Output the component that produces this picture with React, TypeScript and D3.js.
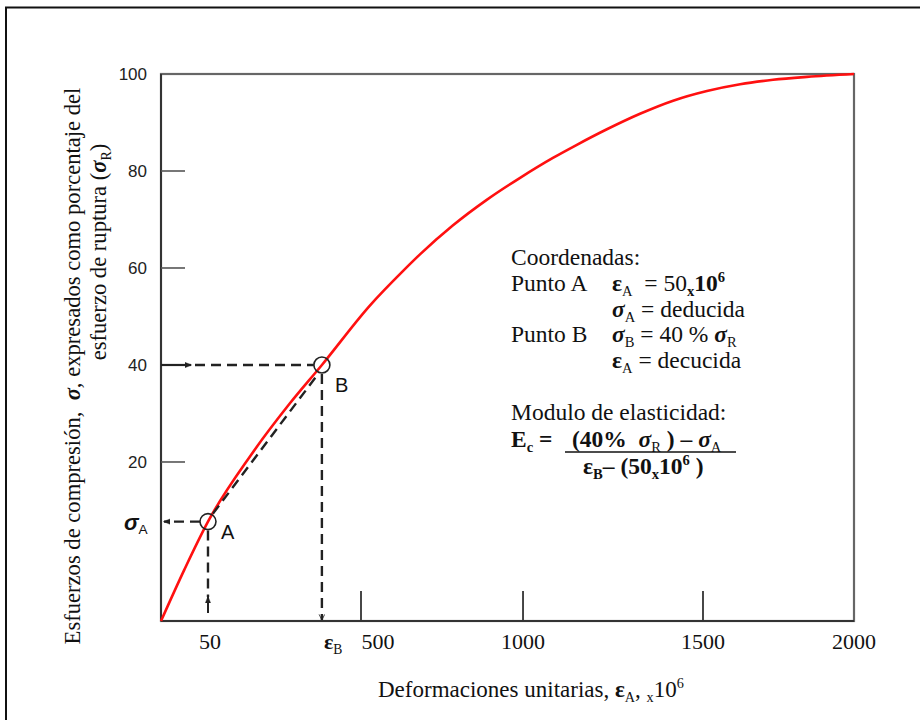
import { useEffect, useRef } from 'react'
import * as d3 from 'd3'

// curve (strain x10^6, stress as % of rupture stress)
const strain = [0, 25, 50, 174, 291, 385, 528, 630, 682, 784, 889, 991, 1083, 1147, 1233, 1325, 1417, 1513, 1623, 1732, 1844, 2000]
const stress = [0, 6.5, 12.5, 21.2, 32.1, 40, 52.3, 59.4, 62.8, 68.8, 74.1, 78.6, 82.7, 85.3, 88.6, 91.8, 94.5, 96.5, 97.9, 98.8, 99.4, 100]

// the axis in the source is schematic, so the scales are piecewise
const xBreaks = [0, 50, 500, 1000, 1500, 2000]
const xBreakFrac = [0, 0.0678, 0.2886, 0.5224, 0.7821, 1]
const yBreaks = [0, 20, 100]
const yBreakFrac = [0, 0.2907, 1]

const xTickMarks = [500, 1000, 1500]
const xTickValues = [50, 500, 1000, 1500, 2000]
const xTickLabels = ['50', '500', '1000', '1500', '2000']
const yTickMarks = [20, 40, 60, 80]
const yTickValues = [20, 40, 60, 80, 100]

const pointA = { label: 'A', strain: 50, stress: 12.5 }
const pointB = { label: 'B', strain: 385, stress: 40 }

const SERIF = '"Liberation Serif", "Times New Roman", serif'
const SANS = '"Liberation Sans", Arial, sans-serif'

type Seg = { t: string; bold?: boolean; italic?: boolean; sub?: boolean; sup?: boolean }

function rich(
  parent: d3.Selection<SVGGElement, unknown, null, undefined>,
  x: number,
  y: number,
  segs: Seg[],
  size: number,
  family = SERIF
) {
  const text = parent
    .append('text')
    .attr('x', x)
    .attr('y', y)
    .attr('font-family', family)
    .attr('font-size', size)
    .attr('fill', '#111')
    .style('white-space', 'pre')
  let shift = 0
  segs.forEach(s => {
    const target = s.sub ? size * 0.22 : s.sup ? -size * 0.38 : 0
    text
      .append('tspan')
      .attr('dy', target - shift)
      .attr('font-size', s.sub || s.sup ? size * 0.62 : size)
      .attr('font-weight', s.bold ? 'bold' : 'normal')
      .attr('font-style', s.italic ? 'italic' : 'normal')
      .text(s.t)
    shift = target
  })
  return text
}

export default function App() {
  const svgRef = useRef<SVGSVGElement>(null)

  useEffect(() => {
    if (!svgRef.current) return
    const svg = d3.select(svgRef.current)
    svg.selectAll('*').remove()

    const margin = { top: 74, left: 161 }
    const width = 693
    const height = 547

    const x = d3.scaleLinear().domain(xBreaks).range(xBreakFrac.map(f => f * width))
    const y = d3.scaleLinear().domain(yBreaks).range(yBreakFrac.map(f => height - f * height))

    const root = svg.append('g')

    // outer page frame
    root.append('rect')
      .attr('x', 6).attr('y', 7.5)
      .attr('width', 960).attr('height', 760)
      .attr('fill', 'none')
      .attr('stroke', '#111')
      .attr('stroke-width', 2)

    const defs = svg.append('defs')
    const arrow = (id: string, open = false) =>
      defs.append('marker')
        .attr('id', id)
        .attr('viewBox', '0 0 10 10')
        .attr('refX', 9).attr('refY', 5)
        .attr('markerWidth', 7).attr('markerHeight', 7)
        .attr('markerUnits', 'userSpaceOnUse')
        .attr('orient', 'auto')
        .append('path')
        .attr('d', open ? 'M1,1 L9,5 L1,9' : 'M0,1 L10,5 L0,9 Z')
        .attr('fill', open ? 'none' : '#222')
        .attr('stroke', '#222')
        .attr('stroke-width', open ? 1.2 : 0.5)
    arrow('arr')
    arrow('arrOpen', true)

    const g = root.append('g').attr('transform', `translate(${margin.left},${margin.top})`)

    // plot frame
    g.append('rect')
      .attr('width', width).attr('height', height)
      .attr('fill', 'none')
      .attr('stroke', '#666')
      .attr('stroke-width', 2.2)
    g.append('line')
      .attr('x1', 0).attr('x2', 0).attr('y1', 0).attr('y2', height)
      .attr('stroke', '#333').attr('stroke-width', 2)
    g.append('line')
      .attr('x1', 0).attr('x2', width).attr('y1', height).attr('y2', height)
      .attr('stroke', '#333').attr('stroke-width', 2)

    // inward ticks
    g.selectAll('.ytick')
      .data(yTickMarks)
      .join('line')
      .attr('x1', 0).attr('x2', 24)
      .attr('y1', d => y(d)).attr('y2', d => y(d))
      .attr('stroke', '#555').attr('stroke-width', 1.6)
    g.selectAll('.xtick')
      .data(xTickMarks)
      .join('line')
      .attr('x1', d => x(d)).attr('x2', d => x(d))
      .attr('y1', height).attr('y2', height - 30)
      .attr('stroke', '#333').attr('stroke-width', 1.8)

    // tick labels
    g.selectAll('.ylab')
      .data(yTickValues)
      .join('text')
      .attr('x', -14)
      .attr('y', d => y(d))
      .attr('dy', '0.36em')
      .attr('text-anchor', 'end')
      .attr('font-family', SANS)
      .attr('font-size', 17)
      .attr('fill', '#222')
      .text(d => d)
    g.selectAll('.xlab')
      .data(xTickValues)
      .join('text')
      .attr('x', d => x(d) + (d === 500 ? 17 : d === 50 ? 2 : 0))
      .attr('y', height + 28)
      .attr('text-anchor', 'middle')
      .attr('font-family', SERIF)
      .attr('font-size', 22)
      .attr('fill', '#111')
      .text((_, i) => xTickLabels[i])

    const lab = g.append('g')
    rich(lab, x(pointB.strain) + 2, height + 28, [
      { t: 'ε', bold: true },
      { t: 'B', sub: true }
    ], 22)
    rich(lab, -37, y(pointA.stress) + 8, [
      { t: 'σ', bold: true, italic: true },
      { t: 'A', sub: true }
    ], 22, SANS)

    // red curve
    const pts = strain.map((s, i) => [x(s), y(stress[i])] as [number, number])
    g.append('path')
      .datum(pts)
      .attr('fill', 'none')
      .attr('stroke', '#ff1010')
      .attr('stroke-width', 2.6)
      .attr('d', d3.line().curve(d3.curveMonotoneX))

    // dashed construction lines
    const ax = x(pointA.strain), ay = y(pointA.stress)
    const bx = x(pointB.strain), by = y(pointB.stress)
    const dash = (sel: d3.Selection<SVGLineElement, unknown, null, undefined>) =>
      sel.attr('stroke', '#222').attr('stroke-width', 2.4).attr('stroke-dasharray', '10,6')

    g.append('line').attr('x1', ax - 8).attr('y1', ay).attr('x2', 3).attr('y2', ay)
      .call(dash).attr('marker-end', 'url(#arr)')
    g.append('line').attr('x1', ax).attr('y1', ay + 9).attr('x2', ax).attr('y2', height - 24)
      .call(dash)
    g.append('line').attr('x1', ax).attr('y1', height - 8).attr('x2', ax).attr('y2', height - 24)
      .attr('stroke', '#222').attr('stroke-width', 2).attr('marker-end', 'url(#arr)')

    g.append('line').attr('x1', 34).attr('y1', by).attr('x2', bx - 8).attr('y2', by).call(dash)
    g.append('line').attr('x1', 0).attr('y1', by).attr('x2', 30).attr('y2', by)
      .attr('stroke', '#222').attr('stroke-width', 2.2).attr('marker-end', 'url(#arr)')
    g.append('line').attr('x1', bx).attr('y1', by + 9).attr('x2', bx).attr('y2', height - 1)
      .call(dash).attr('marker-end', 'url(#arrOpen)')

    g.append('line').attr('x1', ax + 5).attr('y1', ay - 8).attr('x2', bx - 3).attr('y2', by + 8)
      .call(dash)

    // points
    ;[pointA, pointB].forEach(p => {
      g.append('circle')
        .attr('cx', x(p.strain)).attr('cy', y(p.stress)).attr('r', 8)
        .attr('fill', 'none').attr('stroke', '#222').attr('stroke-width', 1.6)
      g.append('text')
        .attr('x', x(p.strain) + 13)
        .attr('y', y(p.stress) + (p === pointA ? 17 : 27))
        .attr('font-family', SANS)
        .attr('font-size', 20)
        .attr('fill', '#111')
        .text(p.label)
    })

    // axis titles
    const yt = root.append('g').attr('transform', 'translate(80,366) rotate(-90)')
    rich(yt, 0, 0, [
      { t: 'Esfuerzos de compresión,  ' },
      { t: 'σ', bold: true, italic: true },
      { t: ', expresados como porcentaje del' }
    ], 22.6).attr('text-anchor', 'middle')
    const yt2 = root.append('g').attr('transform', 'translate(106,252) rotate(-90)')
    rich(yt2, 0, 0, [
      { t: 'esfuerzo de ruptura (' },
      { t: 'σ', bold: true, italic: true },
      { t: 'R', sub: true },
      { t: ')' }
    ], 22.6).attr('text-anchor', 'middle')

    rich(root, 378, 697, [
      { t: 'Deformaciones unitarias, ' },
      { t: 'ε', bold: true },
      { t: 'A', sub: true },
      { t: ', ' },
      { t: 'x', sub: true },
      { t: '10' },
      { t: '6', sup: true }
    ], 23)

    // annotation block
    const note = root.append('g')
    const fs = 23.5
    rich(note, 511, 265, [{ t: 'Coordenadas:' }], fs)
    rich(note, 511, 291, [{ t: 'Punto A' }], fs)
    rich(note, 612, 291, [
      { t: 'ε', bold: true }, { t: 'A', sub: true }, { t: '  = 50' },
      { t: 'x', bold: true, sub: true }, { t: '10', bold: true }, { t: '6', bold: true, sup: true }
    ], fs)
    rich(note, 612, 317, [
      { t: 'σ', bold: true, italic: true }, { t: 'A', sub: true }, { t: ' = deducida' }
    ], fs)
    rich(note, 511, 342, [{ t: 'Punto B' }], fs)
    rich(note, 612, 342, [
      { t: 'σ', bold: true, italic: true }, { t: 'B', sub: true }, { t: ' = 40 % ' },
      { t: 'σ', bold: true, italic: true }, { t: 'R', sub: true }
    ], fs)
    rich(note, 612, 368, [
      { t: 'ε', bold: true }, { t: 'A', sub: true }, { t: ' = decucida' }
    ], fs)
    rich(note, 511, 420, [{ t: 'Modulo de elasticidad:' }], fs)
    rich(note, 511, 447, [
      { t: 'E', bold: true }, { t: 'c', bold: true, sub: true }, { t: ' =', bold: true }
    ], fs)
    rich(note, 572, 447, [
      { t: '(40%  ', bold: true }, { t: 'σ', bold: true, italic: true }, { t: 'R', sub: true },
      { t: ' ) – ', bold: true }, { t: 'σ', bold: true, italic: true }, { t: 'A', sub: true }
    ], fs)
    note.append('line')
      .attr('x1', 565).attr('x2', 736).attr('y1', 452).attr('y2', 452)
      .attr('stroke', '#111').attr('stroke-width', 1.6)
    rich(note, 583, 474, [
      { t: 'ε', bold: true }, { t: 'B', bold: true, sub: true }, { t: '– (50', bold: true },
      { t: 'x', bold: true, sub: true }, { t: '10', bold: true }, { t: '6', bold: true, sup: true },
      { t: ' )', bold: true }
    ], fs)
  }, [])

  return (
    <div style={{ position: 'absolute', left: 0, top: 0 }}>
      <svg ref={svgRef} width={920} height={720} style={{ display: 'block', background: '#fff' }} />
    </div>
  )
}
